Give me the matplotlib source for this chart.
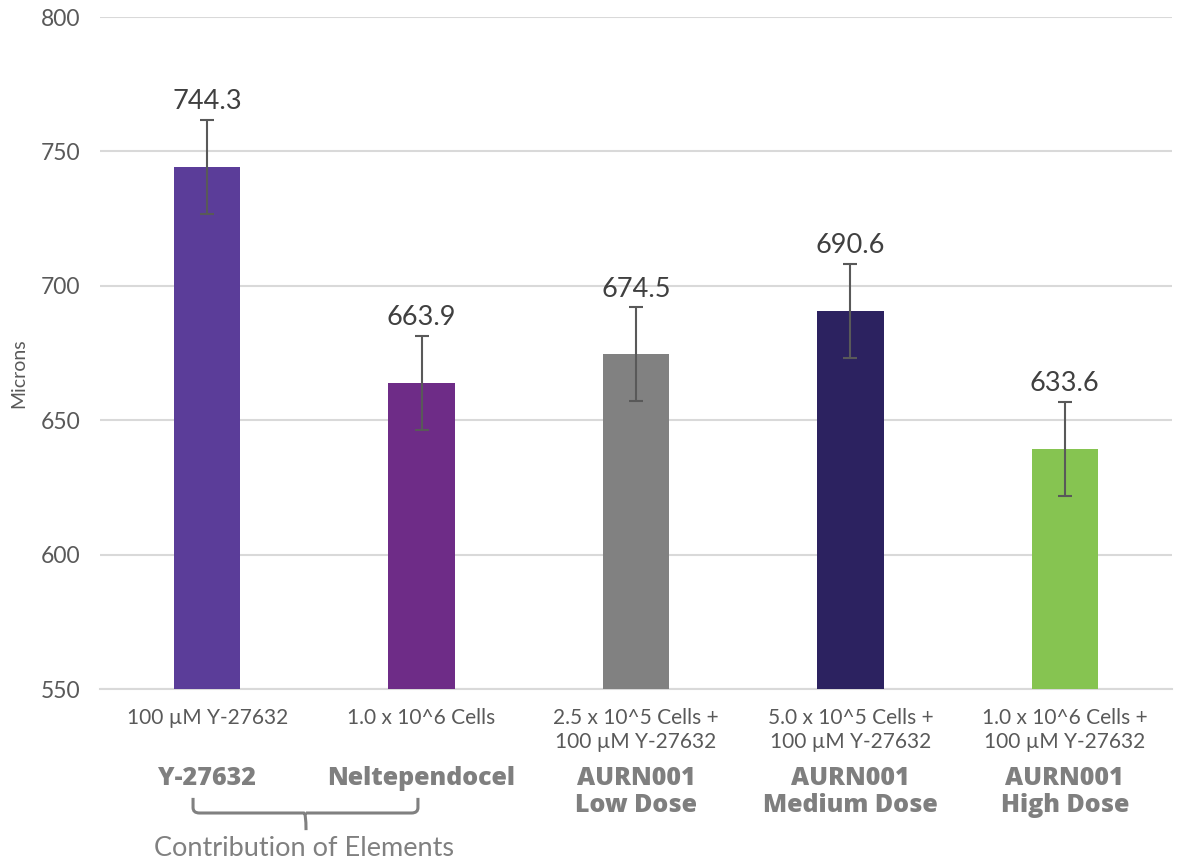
import numpy as np
import matplotlib.pyplot as plt
from matplotlib.path import Path
from matplotlib.patches import PathPatch
import matplotlib.transforms as mtransforms

# Data
dose_labels = ['100 µM Y-27632', '1.0 x 10^6 Cells',
               '2.5 x 10^5 Cells +\n100 µM Y-27632',
               '5.0 x 10^5 Cells +\n100 µM Y-27632',
               '1.0 x 10^6 Cells +\n100 µM Y-27632']
group_labels = ['Y-27632', 'Neltependocel', 'AURN001\nLow Dose',
                'AURN001\nMedium Dose', 'AURN001\nHigh Dose']
bar_values = [744.3, 663.9, 674.5, 690.6, 639.3]
value_texts = ['744.3', '663.9', '674.5', '690.6', '633.6']
errors = [17.4, 17.6, 17.5, 17.5, 17.6]
colors = ['#5B3D99', '#6E2C87', '#818181', '#2C2260', '#86C451']

plt.rcParams['font.family'] = ['Lato', 'DejaVu Sans']

fig = plt.figure(figsize=(11.82, 8.68), dpi=100)
ax = fig.add_axes([0.0846, 0.2062, 0.9069, 0.7742])

x = np.arange(len(bar_values))
ax.bar(x, bar_values, width=0.31, color=colors, zorder=3)
ax.errorbar(x, bar_values, yerr=errors, fmt='none', ecolor='#595959',
            elinewidth=1.5, capsize=5, capthick=1.5, zorder=4)

for xi, v, e, t in zip(x, bar_values, errors, value_texts):
    ax.annotate(t, (xi, v + e), xytext=(0, 4), textcoords='offset points',
                ha='center', va='bottom', fontsize=19.5, color='#404040')

ax.set_ylim(550, 800)
ax.set_xlim(-0.5, 4.5)
ax.set_yticks([550, 600, 650, 700, 750, 800])
ax.tick_params(axis='y', length=0, pad=14, labelsize=16.5, labelcolor='#595959')
ax.set_xticks([])
ax.yaxis.grid(True, color='#D9D9D9', linewidth=1.5, zorder=0)
ax.set_axisbelow(True)
for s in ['top', 'right', 'left']:
    ax.spines[s].set_visible(False)
ax.spines['bottom'].set_color('#D9D9D9')
ax.spines['bottom'].set_linewidth(1.5)

ax.set_ylabel('Microns', fontsize=14, color='#595959')
ax.yaxis.set_label_coords(-0.068, 0.47)

trans = mtransforms.blended_transform_factory(ax.transData, ax.transAxes)
for xi, d, g in zip(x, dose_labels, group_labels):
    ax.text(xi, -0.028, d, transform=trans, ha='center', va='top',
            fontsize=15, color='#595959', linespacing=1.25)
    ax.text(xi, -0.114, g, transform=trans, ha='center', va='top',
            fontsize=18, family=['Open Sans', 'DejaVu Sans'],
            fontweight='heavy', color='#7F7F7F', linespacing=1.15)

# brace under the first two groups
x0, x1, xm = -0.066, 0.983, 0.461
ya, yb, yc = -0.162, -0.1845, -0.21
r = 0.03
verts = [(x0, ya), (x0, yb + 0.008), (x0, yb), (x0 + r, yb),
         (xm - 0.01, yb), (xm, yb), (xm, yc),
         (xm, yb), (xm + 0.01, yb), (x1 - r, yb),
         (x1, yb), (x1, yb + 0.008), (x1, ya)]
codes = [Path.MOVETO, Path.LINETO, Path.CURVE3, Path.CURVE3,
         Path.LINETO, Path.CURVE3, Path.LINETO,
         Path.MOVETO, Path.CURVE3, Path.LINETO,
         Path.CURVE3, Path.CURVE3, Path.LINETO]
brace = PathPatch(Path(verts, codes), transform=trans, fill=False,
                  edgecolor='#808080', linewidth=2.2, clip_on=False)
ax.add_patch(brace)
ax.text(xm - 0.01, -0.219, 'Contribution of Elements', transform=trans,
        ha='center', va='top', fontsize=19.5, color='#808080')

plt.savefig('out.png', dpi=100)
